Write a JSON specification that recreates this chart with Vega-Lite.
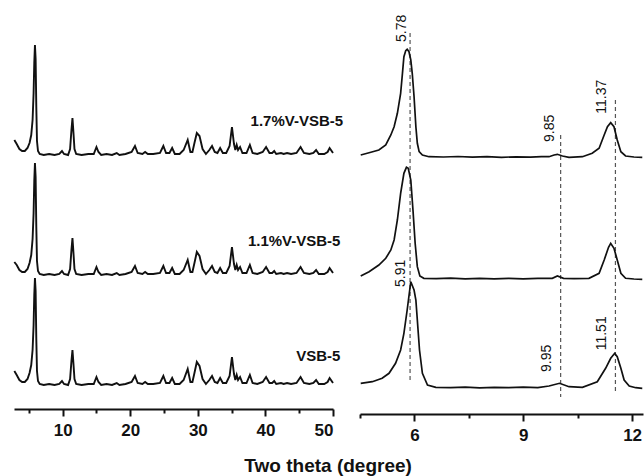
{
  "$schema": "https://vega.github.io/schema/vega-lite/v6.json",
  "padding": {"left": 10, "top": 10, "right": 0, "bottom": 0},
  "background": "white",
  "config": {
    "view": {"stroke": null},
    "font": "Liberation Sans",
    "axis": {"grid": false, "domainColor": "#111", "domainWidth": 2, "tickColor": "#111", "tickWidth": 2, "labelFont": "Liberation Sans", "labelFontSize": 17, "labelFontWeight": "bold", "labelColor": "#111", "labelPadding": 6, "labelOverlap": false, "title": null},
    "concat": {"spacing": 27}
  },
  "title": {"text": "Two theta (degree)", "orient": "bottom", "anchor": "middle", "font": "Liberation Sans", "fontSize": 19, "fontWeight": "bold", "color": "#111", "offset": 14},
  "bounds": "flush",
  "datasets": {
    "left": [
      {"s":"a","t":2.85,"i":269},{"s":"a","t":3.2,"i":265},{"s":"a","t":3.6,"i":260},{"s":"a","t":4.0,"i":258},{"s":"a","t":4.4,"i":258},{"s":"a","t":4.8,"i":261},{"s":"a","t":5.1,"i":266},{"s":"a","t":5.35,"i":274},{"s":"a","t":5.55,"i":289},{"s":"a","t":5.7,"i":316},{"s":"a","t":5.8,"i":346},{"s":"a","t":5.9,"i":364},{"s":"a","t":6.0,"i":350},{"s":"a","t":6.1,"i":302},{"s":"a","t":6.2,"i":268},{"s":"a","t":6.35,"i":258},{"s":"a","t":6.6,"i":255},{"s":"a","t":7.2,"i":254},{"s":"a","t":8.0,"i":255},{"s":"a","t":8.8,"i":254},{"s":"a","t":9.5,"i":255},{"s":"a","t":9.9,"i":258},{"s":"a","t":10.2,"i":255},{"s":"a","t":10.8,"i":254},{"s":"a","t":11.1,"i":260},{"s":"a","t":11.3,"i":279},{"s":"a","t":11.45,"i":291},{"s":"a","t":11.6,"i":276},{"s":"a","t":11.75,"i":260},{"s":"a","t":12.0,"i":255},{"s":"a","t":12.8,"i":254},{"s":"a","t":13.8,"i":255},{"s":"a","t":14.6,"i":255},{"s":"a","t":15.0,"i":262},{"s":"a","t":15.3,"i":257},{"s":"a","t":15.7,"i":254},{"s":"a","t":16.5,"i":255},{"s":"a","t":17.3,"i":254},{"s":"a","t":18.0,"i":256},{"s":"a","t":18.4,"i":254},{"s":"a","t":19.3,"i":255},{"s":"a","t":20.2,"i":257},{"s":"a","t":20.7,"i":263},{"s":"a","t":21.1,"i":256},{"s":"a","t":21.8,"i":255},{"s":"a","t":22.2,"i":257},{"s":"a","t":22.6,"i":255},{"s":"a","t":23.4,"i":255},{"s":"a","t":24.4,"i":256},{"s":"a","t":24.9,"i":263},{"s":"a","t":25.3,"i":256},{"s":"a","t":25.8,"i":256},{"s":"a","t":26.2,"i":261},{"s":"a","t":26.6,"i":255},{"s":"a","t":27.3,"i":255},{"s":"a","t":27.9,"i":259},{"s":"a","t":28.5,"i":269},{"s":"a","t":28.9,"i":257},{"s":"a","t":29.2,"i":257},{"s":"a","t":29.5,"i":266},{"s":"a","t":29.85,"i":276},{"s":"a","t":30.25,"i":273},{"s":"a","t":30.7,"i":260},{"s":"a","t":31.2,"i":255},{"s":"a","t":31.7,"i":259},{"s":"a","t":32.1,"i":263},{"s":"a","t":32.5,"i":257},{"s":"a","t":32.9,"i":256},{"s":"a","t":33.3,"i":261},{"s":"a","t":33.7,"i":256},{"s":"a","t":34.2,"i":256},{"s":"a","t":34.7,"i":263},{"s":"a","t":35.05,"i":282},{"s":"a","t":35.35,"i":265},{"s":"a","t":35.55,"i":259},{"s":"a","t":35.75,"i":264},{"s":"a","t":35.95,"i":259},{"s":"a","t":36.25,"i":262},{"s":"a","t":36.6,"i":256},{"s":"a","t":37.2,"i":256},{"s":"a","t":37.7,"i":264},{"s":"a","t":38.1,"i":256},{"s":"a","t":38.8,"i":255},{"s":"a","t":39.6,"i":257},{"s":"a","t":40.1,"i":262},{"s":"a","t":40.6,"i":256},{"s":"a","t":41.0,"i":256},{"s":"a","t":41.3,"i":258},{"s":"a","t":41.6,"i":255},{"s":"a","t":42.3,"i":256},{"s":"a","t":42.7,"i":255},{"s":"a","t":43.2,"i":256},{"s":"a","t":43.8,"i":255},{"s":"a","t":44.6,"i":256},{"s":"a","t":45.2,"i":262},{"s":"a","t":45.7,"i":256},{"s":"a","t":46.5,"i":255},{"s":"a","t":47.1,"i":256},{"s":"a","t":47.5,"i":259},{"s":"a","t":47.9,"i":255},{"s":"a","t":48.7,"i":255},{"s":"a","t":49.2,"i":257},{"s":"a","t":49.5,"i":261},{"s":"a","t":49.8,"i":258},{"s":"a","t":50,"i":256},
      {"s":"b","t":2.85,"i":147},{"s":"b","t":3.2,"i":144},{"s":"b","t":3.6,"i":139},{"s":"b","t":4.0,"i":137},{"s":"b","t":4.4,"i":137},{"s":"b","t":4.8,"i":140},{"s":"b","t":5.1,"i":146},{"s":"b","t":5.35,"i":154},{"s":"b","t":5.55,"i":170},{"s":"b","t":5.7,"i":196},{"s":"b","t":5.8,"i":228},{"s":"b","t":5.9,"i":246},{"s":"b","t":6.0,"i":232},{"s":"b","t":6.1,"i":182},{"s":"b","t":6.2,"i":148},{"s":"b","t":6.35,"i":138},{"s":"b","t":6.6,"i":135},{"s":"b","t":7.2,"i":134},{"s":"b","t":8.0,"i":135},{"s":"b","t":8.8,"i":134},{"s":"b","t":9.5,"i":135},{"s":"b","t":9.9,"i":138},{"s":"b","t":10.2,"i":135},{"s":"b","t":10.8,"i":134},{"s":"b","t":11.1,"i":140},{"s":"b","t":11.3,"i":159},{"s":"b","t":11.45,"i":171},{"s":"b","t":11.6,"i":156},{"s":"b","t":11.75,"i":140},{"s":"b","t":12.0,"i":135},{"s":"b","t":12.8,"i":134},{"s":"b","t":13.8,"i":135},{"s":"b","t":14.6,"i":135},{"s":"b","t":15.0,"i":142},{"s":"b","t":15.3,"i":137},{"s":"b","t":15.7,"i":134},{"s":"b","t":16.5,"i":135},{"s":"b","t":17.3,"i":134},{"s":"b","t":18.0,"i":136},{"s":"b","t":18.4,"i":134},{"s":"b","t":19.3,"i":135},{"s":"b","t":20.2,"i":137},{"s":"b","t":20.7,"i":143},{"s":"b","t":21.1,"i":136},{"s":"b","t":21.8,"i":135},{"s":"b","t":22.2,"i":137},{"s":"b","t":22.6,"i":135},{"s":"b","t":23.4,"i":135},{"s":"b","t":24.4,"i":136},{"s":"b","t":24.9,"i":143},{"s":"b","t":25.3,"i":136},{"s":"b","t":25.8,"i":136},{"s":"b","t":26.2,"i":141},{"s":"b","t":26.6,"i":135},{"s":"b","t":27.3,"i":135},{"s":"b","t":27.9,"i":139},{"s":"b","t":28.5,"i":149},{"s":"b","t":28.9,"i":137},{"s":"b","t":29.2,"i":137},{"s":"b","t":29.5,"i":146},{"s":"b","t":29.85,"i":157},{"s":"b","t":30.25,"i":153},{"s":"b","t":30.7,"i":140},{"s":"b","t":31.2,"i":135},{"s":"b","t":31.7,"i":139},{"s":"b","t":32.1,"i":143},{"s":"b","t":32.5,"i":137},{"s":"b","t":32.9,"i":136},{"s":"b","t":33.3,"i":141},{"s":"b","t":33.7,"i":136},{"s":"b","t":34.2,"i":136},{"s":"b","t":34.7,"i":143},{"s":"b","t":35.05,"i":162},{"s":"b","t":35.35,"i":145},{"s":"b","t":35.55,"i":139},{"s":"b","t":35.75,"i":144},{"s":"b","t":35.95,"i":139},{"s":"b","t":36.25,"i":142},{"s":"b","t":36.6,"i":136},{"s":"b","t":37.2,"i":136},{"s":"b","t":37.7,"i":144},{"s":"b","t":38.1,"i":136},{"s":"b","t":38.8,"i":135},{"s":"b","t":39.6,"i":137},{"s":"b","t":40.1,"i":142},{"s":"b","t":40.6,"i":136},{"s":"b","t":41.0,"i":136},{"s":"b","t":41.3,"i":138},{"s":"b","t":41.6,"i":135},{"s":"b","t":42.3,"i":136},{"s":"b","t":42.7,"i":135},{"s":"b","t":43.2,"i":136},{"s":"b","t":43.8,"i":135},{"s":"b","t":44.6,"i":136},{"s":"b","t":45.2,"i":142},{"s":"b","t":45.7,"i":136},{"s":"b","t":46.5,"i":135},{"s":"b","t":47.1,"i":136},{"s":"b","t":47.5,"i":139},{"s":"b","t":47.9,"i":135},{"s":"b","t":48.7,"i":135},{"s":"b","t":49.2,"i":137},{"s":"b","t":49.5,"i":141},{"s":"b","t":49.8,"i":138},{"s":"b","t":50,"i":136},
      {"s":"c","t":2.85,"i":38},{"s":"c","t":3.2,"i":34},{"s":"c","t":3.6,"i":29},{"s":"c","t":4.0,"i":27},{"s":"c","t":4.4,"i":27},{"s":"c","t":4.8,"i":30},{"s":"c","t":5.1,"i":36},{"s":"c","t":5.35,"i":44},{"s":"c","t":5.55,"i":59},{"s":"c","t":5.7,"i":84},{"s":"c","t":5.8,"i":114},{"s":"c","t":5.9,"i":131},{"s":"c","t":6.0,"i":118},{"s":"c","t":6.1,"i":70},{"s":"c","t":6.2,"i":38},{"s":"c","t":6.35,"i":28},{"s":"c","t":6.6,"i":25},{"s":"c","t":7.2,"i":24},{"s":"c","t":8.0,"i":25},{"s":"c","t":8.8,"i":24},{"s":"c","t":9.5,"i":25},{"s":"c","t":9.9,"i":28},{"s":"c","t":10.2,"i":25},{"s":"c","t":10.8,"i":24},{"s":"c","t":11.1,"i":30},{"s":"c","t":11.3,"i":48},{"s":"c","t":11.45,"i":59},{"s":"c","t":11.6,"i":45},{"s":"c","t":11.75,"i":30},{"s":"c","t":12.0,"i":25},{"s":"c","t":12.8,"i":24},{"s":"c","t":13.8,"i":25},{"s":"c","t":14.6,"i":25},{"s":"c","t":15.0,"i":32},{"s":"c","t":15.3,"i":27},{"s":"c","t":15.7,"i":24},{"s":"c","t":16.5,"i":25},{"s":"c","t":17.3,"i":24},{"s":"c","t":18.0,"i":26},{"s":"c","t":18.4,"i":24},{"s":"c","t":19.3,"i":25},{"s":"c","t":20.2,"i":27},{"s":"c","t":20.7,"i":33},{"s":"c","t":21.1,"i":26},{"s":"c","t":21.8,"i":25},{"s":"c","t":22.2,"i":27},{"s":"c","t":22.6,"i":25},{"s":"c","t":23.4,"i":25},{"s":"c","t":24.4,"i":26},{"s":"c","t":24.9,"i":33},{"s":"c","t":25.3,"i":26},{"s":"c","t":25.8,"i":26},{"s":"c","t":26.2,"i":31},{"s":"c","t":26.6,"i":25},{"s":"c","t":27.3,"i":25},{"s":"c","t":27.9,"i":29},{"s":"c","t":28.5,"i":40},{"s":"c","t":28.9,"i":27},{"s":"c","t":29.2,"i":27},{"s":"c","t":29.5,"i":36},{"s":"c","t":29.85,"i":47},{"s":"c","t":30.25,"i":43},{"s":"c","t":30.7,"i":30},{"s":"c","t":31.2,"i":25},{"s":"c","t":31.7,"i":29},{"s":"c","t":32.1,"i":33},{"s":"c","t":32.5,"i":27},{"s":"c","t":32.9,"i":26},{"s":"c","t":33.3,"i":31},{"s":"c","t":33.7,"i":26},{"s":"c","t":34.2,"i":26},{"s":"c","t":34.7,"i":33},{"s":"c","t":35.05,"i":52},{"s":"c","t":35.35,"i":35},{"s":"c","t":35.55,"i":29},{"s":"c","t":35.75,"i":34},{"s":"c","t":35.95,"i":29},{"s":"c","t":36.25,"i":32},{"s":"c","t":36.6,"i":26},{"s":"c","t":37.2,"i":26},{"s":"c","t":37.7,"i":34},{"s":"c","t":38.1,"i":26},{"s":"c","t":38.8,"i":25},{"s":"c","t":39.6,"i":27},{"s":"c","t":40.1,"i":32},{"s":"c","t":40.6,"i":26},{"s":"c","t":41.0,"i":26},{"s":"c","t":41.3,"i":28},{"s":"c","t":41.6,"i":25},{"s":"c","t":42.3,"i":26},{"s":"c","t":42.7,"i":25},{"s":"c","t":43.2,"i":26},{"s":"c","t":43.8,"i":25},{"s":"c","t":44.6,"i":26},{"s":"c","t":45.2,"i":32},{"s":"c","t":45.7,"i":26},{"s":"c","t":46.5,"i":25},{"s":"c","t":47.1,"i":26},{"s":"c","t":47.5,"i":29},{"s":"c","t":47.9,"i":25},{"s":"c","t":48.7,"i":25},{"s":"c","t":49.2,"i":27},{"s":"c","t":49.5,"i":31},{"s":"c","t":49.8,"i":28},{"s":"c","t":50,"i":26}
    ],
    "right": [
      {"s":"a","t":4.52,"i":259},{"s":"a","t":4.75,"i":261.3},{"s":"a","t":5.02,"i":264},{"s":"a","t":5.21,"i":269},{"s":"a","t":5.35,"i":279},{"s":"a","t":5.44,"i":287.3},{"s":"a","t":5.53,"i":300.7},{"s":"a","t":5.62,"i":320.7},{"s":"a","t":5.67,"i":340.7},{"s":"a","t":5.71,"i":357.3},{"s":"a","t":5.76,"i":363.3},{"s":"a","t":5.8,"i":364.7},{"s":"a","t":5.85,"i":362.3},{"s":"a","t":5.9,"i":354},{"s":"a","t":5.94,"i":340.7},{"s":"a","t":5.99,"i":317.3},{"s":"a","t":6.04,"i":287.3},{"s":"a","t":6.08,"i":270.7},{"s":"a","t":6.13,"i":262.3},{"s":"a","t":6.22,"i":259},{"s":"a","t":6.4,"i":257.3},{"s":"a","t":6.8,"i":257},{"s":"a","t":7.2,"i":257.5},{"s":"a","t":7.6,"i":256.8},{"s":"a","t":8.0,"i":257.3},{"s":"a","t":8.4,"i":256.7},{"s":"a","t":8.8,"i":257.2},{"s":"a","t":9.2,"i":256.8},{"s":"a","t":9.5,"i":257.3},{"s":"a","t":9.71,"i":257.3},{"s":"a","t":9.85,"i":259},{"s":"a","t":9.94,"i":259.7},{"s":"a","t":10.08,"i":258},{"s":"a","t":10.26,"i":256.7},{"s":"a","t":10.63,"i":257.3},{"s":"a","t":10.9,"i":260.7},{"s":"a","t":11.09,"i":265.7},{"s":"a","t":11.23,"i":279},{"s":"a","t":11.32,"i":287.3},{"s":"a","t":11.41,"i":291.3},{"s":"a","t":11.5,"i":287.3},{"s":"a","t":11.59,"i":274},{"s":"a","t":11.69,"i":262.3},{"s":"a","t":11.82,"i":258},{"s":"a","t":12.05,"i":257},{"s":"a","t":12.28,"i":256.7},
      {"s":"b","t":4.52,"i":138},{"s":"b","t":4.75,"i":142.3},{"s":"b","t":5.02,"i":149},{"s":"b","t":5.21,"i":155.7},{"s":"b","t":5.35,"i":164},{"s":"b","t":5.44,"i":174},{"s":"b","t":5.53,"i":194},{"s":"b","t":5.62,"i":220.7},{"s":"b","t":5.71,"i":240.7},{"s":"b","t":5.78,"i":246.7},{"s":"b","t":5.83,"i":245.7},{"s":"b","t":5.9,"i":234},{"s":"b","t":5.96,"i":204},{"s":"b","t":6.02,"i":170.7},{"s":"b","t":6.08,"i":147.3},{"s":"b","t":6.15,"i":138},{"s":"b","t":6.26,"i":135.7},{"s":"b","t":6.6,"i":135.3},{"s":"b","t":7.0,"i":135.8},{"s":"b","t":7.4,"i":135.2},{"s":"b","t":7.8,"i":135.7},{"s":"b","t":8.2,"i":135.1},{"s":"b","t":8.6,"i":135.6},{"s":"b","t":9.0,"i":135.2},{"s":"b","t":9.4,"i":135.6},{"s":"b","t":9.8,"i":135.7},{"s":"b","t":9.94,"i":138},{"s":"b","t":10.11,"i":135.7},{"s":"b","t":10.4,"i":135.3},{"s":"b","t":10.81,"i":135.7},{"s":"b","t":11.09,"i":140.7},{"s":"b","t":11.23,"i":154},{"s":"b","t":11.35,"i":166.7},{"s":"b","t":11.41,"i":170.7},{"s":"b","t":11.5,"i":165.7},{"s":"b","t":11.59,"i":154},{"s":"b","t":11.69,"i":140.7},{"s":"b","t":11.82,"i":135.7},{"s":"b","t":12.05,"i":135},{"s":"b","t":12.28,"i":134.7},
      {"s":"c","t":4.52,"i":30.7},{"s":"c","t":4.84,"i":32.3},{"s":"c","t":5.11,"i":35.7},{"s":"c","t":5.3,"i":40.7},{"s":"c","t":5.48,"i":50.7},{"s":"c","t":5.62,"i":64},{"s":"c","t":5.71,"i":80.7},{"s":"c","t":5.8,"i":104},{"s":"c","t":5.9,"i":132.3},{"s":"c","t":5.99,"i":124},{"s":"c","t":6.04,"i":114},{"s":"c","t":6.08,"i":94},{"s":"c","t":6.14,"i":64},{"s":"c","t":6.22,"i":40.7},{"s":"c","t":6.36,"i":29},{"s":"c","t":6.59,"i":26.7},{"s":"c","t":7.0,"i":26.3},{"s":"c","t":7.4,"i":26.8},{"s":"c","t":7.8,"i":26.2},{"s":"c","t":8.2,"i":26.7},{"s":"c","t":8.6,"i":26.3},{"s":"c","t":9.0,"i":26.8},{"s":"c","t":9.4,"i":26.4},{"s":"c","t":9.71,"i":28},{"s":"c","t":10.0,"i":30.7},{"s":"c","t":10.26,"i":27.3},{"s":"c","t":10.63,"i":26.7},{"s":"c","t":11.04,"i":32.3},{"s":"c","t":11.27,"i":45.7},{"s":"c","t":11.41,"i":55.7},{"s":"c","t":11.52,"i":60.7},{"s":"c","t":11.59,"i":57.3},{"s":"c","t":11.69,"i":45.7},{"s":"c","t":11.78,"i":34},{"s":"c","t":11.92,"i":28},{"s":"c","t":12.1,"i":26.3},{"s":"c","t":12.28,"i":25.7}
    ],
    "rules": [
      {"t":5.88,"i":381,"i2":32},
      {"t":10.03,"i":279,"i2":17},
      {"t":11.54,"i":314,"i2":22}
    ],
    "rlab": [
      {"t":5.78,"i":385.7,"lab":"5.78"},
      {"t":9.86,"i":285.7,"lab":"9.85"},
      {"t":11.28,"i":317.3,"lab":"11.37"},
      {"t":5.73,"i":140.7,"lab":"5.91"},
      {"t":9.77,"i":55.7,"lab":"9.95"},
      {"t":11.28,"i":80.7,"lab":"11.51"}
    ],
    "llab": [
      {"t":51.5,"i":288,"lab":"1.7%V-VSB-5"},
      {"t":51.1,"i":168,"lab":"1.1%V-VSB-5"},
      {"t":51.1,"i":53.3,"lab":"VSB-5"}
    ]
  },
  "hconcat": [
    {
      "width": 319,
      "height": 399,
      "encoding": {
        "x": {"field": "t", "type": "quantitative", "scale": {"domain": [2.8, 50], "nice": false, "zero": false},
          "axis": {"values": [5, 10, 15, 20, 25, 30, 35, 40, 45, 50], "labelExpr": "(datum.value == 10 || datum.value == 20 || datum.value == 30 || datum.value == 40 || datum.value == 50) ? datum.label : ''", "tickSize": {"condition": {"test": "datum.value % 10 === 0", "value": 7}, "value": 4}}},
        "y": {"field": "i", "type": "quantitative", "scale": {"domain": [0, 399], "nice": false}, "axis": null}
      },
      "layer": [
        {
          "data": {"name": "left"},
          "mark": {"type": "line", "color": "#111", "strokeWidth": 1.9},
          "encoding": {
            "detail": {"field": "s"}
          }
        },
        {
          "data": {"name": "llab"},
          "mark": {"type": "text", "align": "right", "baseline": "middle", "font": "Liberation Sans", "fontSize": 15, "fontWeight": "bold", "color": "#111"},
          "encoding": {
            "text": {"field": "lab"}
          }
        }
      ]
    },
    {
      "width": 283,
      "height": 404,
      "encoding": {
        "x": {"field": "t", "type": "quantitative", "scale": {"domain": [4.5, 12.3], "nice": false, "zero": false},
          "axis": {"values": [4.5, 6, 7.5, 9, 10.5, 12], "labelExpr": "datum.value % 3 === 0 ? datum.label : ''", "tickSize": {"condition": {"test": "datum.value % 3 === 0", "value": 7}, "value": 4}}},
        "y": {"field": "i", "type": "quantitative", "scale": {"domain": [0, 404], "nice": false}, "axis": null}
      },
      "layer": [
        {
          "data": {"name": "rules"},
          "mark": {"type": "rule", "color": "#555", "strokeWidth": 1.2, "strokeDash": [4, 3]},
          "encoding": {
            "y2": {"field": "i2"}
          }
        },
        {
          "data": {"name": "right"},
          "mark": {"type": "line", "color": "#111", "strokeWidth": 1.7},
          "encoding": {
            "detail": {"field": "s"}
          }
        },
        {
          "data": {"name": "rlab"},
          "mark": {"type": "text", "angle": 270, "align": "center", "baseline": "alphabetic", "font": "Liberation Sans", "fontSize": 14, "color": "#111"},
          "encoding": {
            "text": {"field": "lab"}
          }
        }
      ]
    }
  ]
}
